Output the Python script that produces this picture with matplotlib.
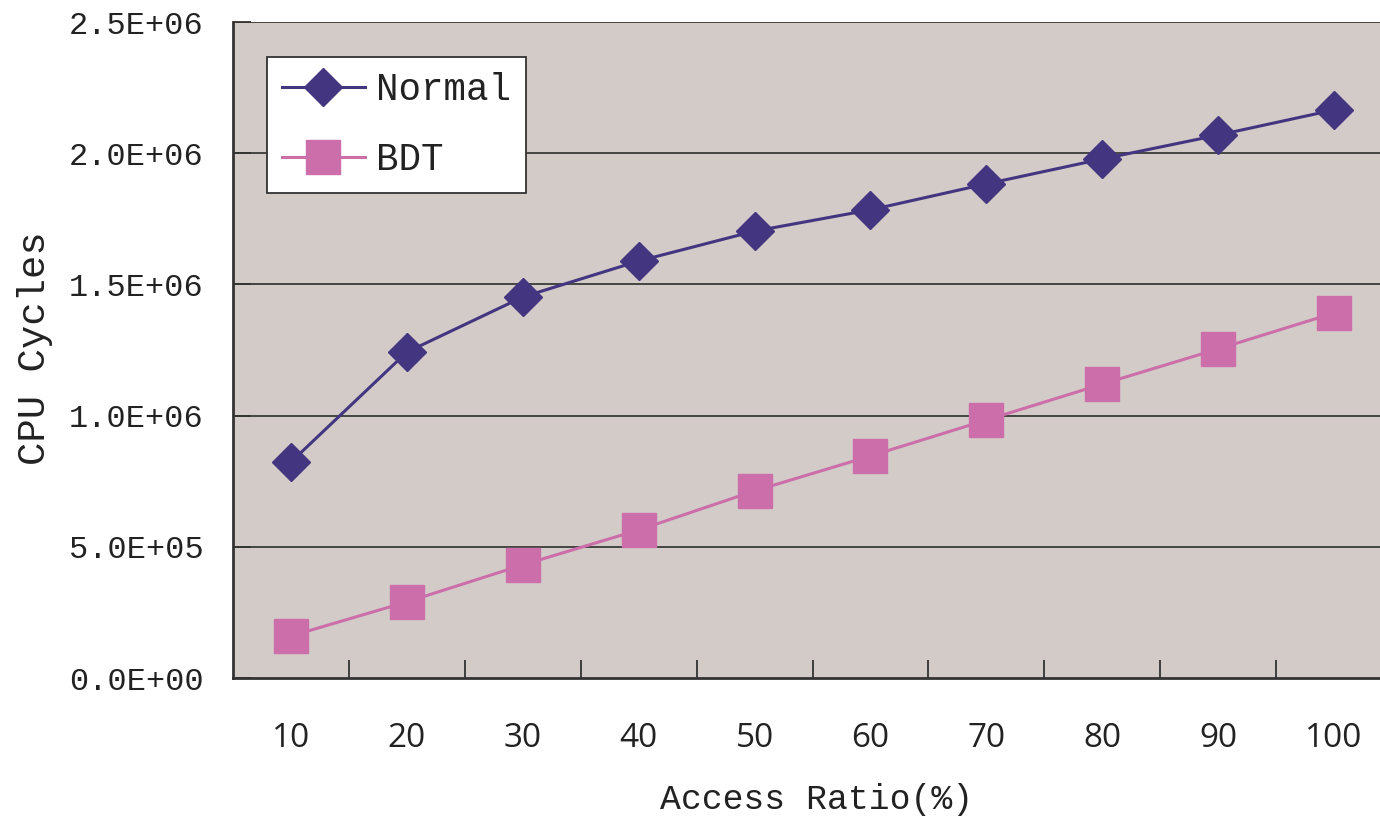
import matplotlib
matplotlib.use("Agg")
import matplotlib.pyplot as plt
from matplotlib.ticker import FixedLocator, FuncFormatter

# Access ratio categories and measured CPU cycles
access_ratio = [10, 20, 30, 40, 50, 60, 70, 80, 90, 100]
normal_cycles = [0.823e6, 1.242e6, 1.452e6, 1.589e6, 1.703e6,
                 1.784e6, 1.883e6, 1.978e6, 2.069e6, 2.165e6]
bdt_cycles = [0.160e6, 0.290e6, 0.431e6, 0.564e6, 0.713e6,
              0.846e6, 0.983e6, 1.120e6, 1.254e6, 1.391e6]
y_ticks = [0.0, 0.5e6, 1.0e6, 1.5e6, 2.0e6, 2.5e6]

MONO = "Liberation Mono"
SANS = "Open Sans"
BG = "#d3cbc8"
NORMAL_C = "#433580"
BDT_C = "#cc6ea9"
TEXT_C = "#222222"

fig = plt.figure(figsize=(13.8, 8.17), dpi=100)
W, H = 1380, 817
left, right, top, bottom = 233, 1392, 22, 678
ax = fig.add_axes([left / W, 1 - bottom / H, (right - left) / W, (bottom - top) / H])
ax.set_facecolor(BG)

xs = list(range(len(access_ratio)))
ax.plot(xs, normal_cycles, color=NORMAL_C, lw=2.2, marker="D", markersize=19,
        markerfacecolor=NORMAL_C, markeredgecolor=NORMAL_C, label="Normal", zorder=4)
ax.plot(xs, bdt_cycles, color=BDT_C, lw=2.2, marker="s", markersize=24,
        markerfacecolor=BDT_C, markeredgecolor=BDT_C, label="BDT", zorder=3)

ax.set_xlim(-0.5, len(access_ratio) - 0.5)
ax.set_ylim(0, 2.5e6)

# Horizontal gridlines
for v in y_ticks[1:]:
    ax.axhline(v, color="#3a3a3a", lw=1.3, zorder=1)

# Y axis
ax.yaxis.set_major_locator(FixedLocator(y_ticks))
ax.yaxis.set_major_formatter(FuncFormatter(lambda v, p: f"{v:.1E}"))
ax.tick_params(axis="y", direction="in", length=13, width=1.3, color="#333333",
               pad=21, labelsize=23, labelcolor=TEXT_C)
for lab in ax.get_yticklabels():
    lab.set_fontfamily(MONO)

# X axis: labels at category centers, tick marks between categories
ax.set_xticks(xs)
ax.set_xticklabels([str(a) for a in access_ratio], fontfamily=SANS)
ax.tick_params(axis="x", which="major", length=0, pad=32, labelsize=24,
               labelcolor=TEXT_C)
ax.set_xticks([i + 0.5 for i in xs[:-1]], minor=True)
ax.tick_params(axis="x", which="minor", direction="in", length=13, width=1.3,
               color="#333333")

for s in ("top", "right"):
    ax.spines[s].set_visible(False)
for s in ("left", "bottom"):
    ax.spines[s].set_color("#333333")
    ax.spines[s].set_linewidth(2)

ax.set_ylabel("CPU Cycles", fontfamily=MONO, fontsize=28, color=TEXT_C)
ax.yaxis.set_label_coords(35 / W, 1 - 348 / H, transform=fig.transFigure)
ax.yaxis.label.set_verticalalignment("center")
ax.set_xlabel("Access Ratio(%)", fontfamily=MONO, fontsize=25, color=TEXT_C)
ax.xaxis.set_label_coords(817 / W, 1 - 800 / H, transform=fig.transFigure)
ax.xaxis.label.set_verticalalignment("center")

leg = ax.legend(loc="upper left",
                bbox_to_anchor=((267 - left) / (right - left), 1 - (57 - top) / (bottom - top)),
                prop={"family": MONO, "size": 27}, frameon=True, fancybox=False,
                edgecolor="#333333", facecolor="white", framealpha=1,
                handlelength=2.2, handletextpad=0.3, borderpad=0.4,
                labelspacing=0.9, borderaxespad=0)
leg.get_frame().set_linewidth(1.3)
for t in leg.get_texts():
    t.set_color(TEXT_C)

fig.savefig("out.png", dpi=100, facecolor="white")
